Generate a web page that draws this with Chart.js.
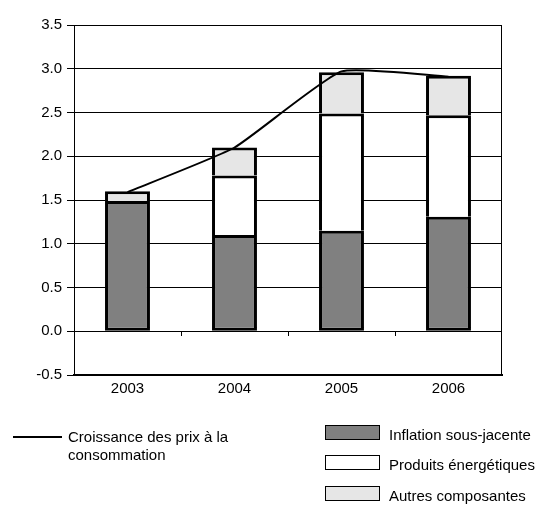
<!DOCTYPE html>
<html lang="fr">
<head>
    <meta charset="UTF-8">
    <title>Croissance des prix à la consommation</title>
    <script src="https://cdn.jsdelivr.net/npm/chart.js"></script>
    <style>
        body {
            margin: 0;
            padding: 0;
            background-color: #fff;
            font-family: "Liberation Sans", Arial, sans-serif;
        }
        .wrap {
            position: relative;
            width: 545px;
            height: 505px;
        }
        canvas {
            position: absolute;
            left: 0;
            top: 0;
        }
        .lg {
            position: absolute;
            font-size: 15px;
            line-height: 18px;
            color: #000;
            white-space: nowrap;
        }
        .lg-line {
            position: absolute;
            height: 0;
            border-top: 2px solid #000;
        }
        .lg-box {
            position: absolute;
            width: 53px;
            height: 13px;
            border: 1px solid #000;
        }
    </style>
</head>
<body>
    <div class="wrap">
        <canvas id="chart" width="545" height="505"></canvas>
        <div class="lg-line" style="left:13px; top:436px; width:49px;"></div>
        <div class="lg" style="left:68px; top:428px;">Croissance des prix à la<br>consommation</div>
        <div class="lg-box" style="left:325px; top:425px; background:#808080;"></div>
        <div class="lg" style="left:389px; top:426px;">Inflation sous-jacente</div>
        <div class="lg-box" style="left:325px; top:455px; background:#fff;"></div>
        <div class="lg" style="left:389px; top:456px;">Produits énergétiques</div>
        <div class="lg-box" style="left:325px; top:486px; background:#e6e6e6;"></div>
        <div class="lg" style="left:389px; top:487px;">Autres composantes</div>
    </div>

    <script>
        // données
        const annees = ['2003', '2004', '2005', '2006'];
        const inflationSousJacente = [1.49, 1.10, 1.15, 1.31];
        const produitsEnergetiques = [0.00, 0.68, 1.34, 1.16];
        const autresComposantes = [0.11, 0.32, 0.47, 0.45];
        const croissancePrix = [1.59, 2.10, 2.97, 2.91];

        // cadre du graphique + petites graduations sur l'axe zéro
        const cadrePlugin = {
            id: 'cadre',
            afterDraw(chart) {
                const ctx = chart.ctx;
                const a = chart.chartArea;
                const x = chart.scales.x;
                const y = chart.scales.y;
                ctx.save();
                ctx.strokeStyle = '#000';
                ctx.lineWidth = 1;
                ctx.beginPath();
                ctx.moveTo(a.left, a.top + 0.5);
                ctx.lineTo(a.right - 0.5, a.top + 0.5);
                ctx.lineTo(a.right - 0.5, a.bottom);
                ctx.stroke();
                const y0 = Math.round(y.getPixelForValue(0));
                for (let i = 0; i < annees.length - 1; i++) {
                    const px = Math.round(x.getPixelForValue(i + 0.5)) + 0.5;
                    ctx.beginPath();
                    ctx.moveTo(px, y0);
                    ctx.lineTo(px, y0 + 5);
                    ctx.stroke();
                }
                ctx.restore();
            }
        };

        const barCommun = {
            type: 'bar',
            borderColor: '#000',
            borderWidth: 3,
            barPercentage: 0.42,
            categoryPercentage: 1,
            stack: 'composantes',
            order: 1
        };

        const police = { family: '"Liberation Sans", Arial, sans-serif', size: 15 };

        new Chart(document.getElementById('chart'), {
            data: {
                labels: annees,
                datasets: [
                    {
                        type: 'line',
                        label: 'Croissance des prix à la consommation',
                        data: croissancePrix,
                        borderColor: '#000',
                        borderWidth: 2,
                        pointRadius: 0,
                        tension: 0.15,
                        fill: false,
                        stack: 'prix',
                        order: 0
                    },
                    Object.assign({}, barCommun, {
                        label: 'Inflation sous-jacente',
                        data: inflationSousJacente,
                        backgroundColor: '#808080',
                        borderSkipped: false
                    }),
                    Object.assign({}, barCommun, {
                        label: 'Produits énergétiques',
                        data: produitsEnergetiques,
                        backgroundColor: '#ffffff',
                        borderSkipped: 'start'
                    }),
                    Object.assign({}, barCommun, {
                        label: 'Autres composantes',
                        data: autresComposantes,
                        backgroundColor: '#e6e6e6',
                        borderSkipped: 'start'
                    })
                ]
            },
            options: {
                responsive: false,
                animation: false,
                layout: {
                    padding: { top: 25, right: 43, left: 0, bottom: 0 }
                },
                plugins: {
                    legend: { display: false },
                    tooltip: { enabled: false }
                },
                scales: {
                    x: {
                        stacked: true,
                        offset: true,
                        grid: { display: false, drawTicks: false },
                        border: { display: true, color: '#000', width: 2 },
                        ticks: { color: '#000', padding: 5, font: police },
                        afterFit(scale) { scale.height = 130; }
                    },
                    y: {
                        stacked: true,
                        min: -0.5,
                        max: 3.5,
                        ticks: {
                            stepSize: 0.5,
                            color: '#000',
                            padding: 5,
                            font: police,
                            callback: v => v.toFixed(1)
                        },
                        grid: { color: '#000', lineWidth: 1, tickLength: 7 },
                        border: { display: true, color: '#000', width: 1 },
                        afterFit(scale) { scale.width = 74; }
                    }
                }
            },
            plugins: [cadrePlugin]
        });
    </script>
</body>
</html>
